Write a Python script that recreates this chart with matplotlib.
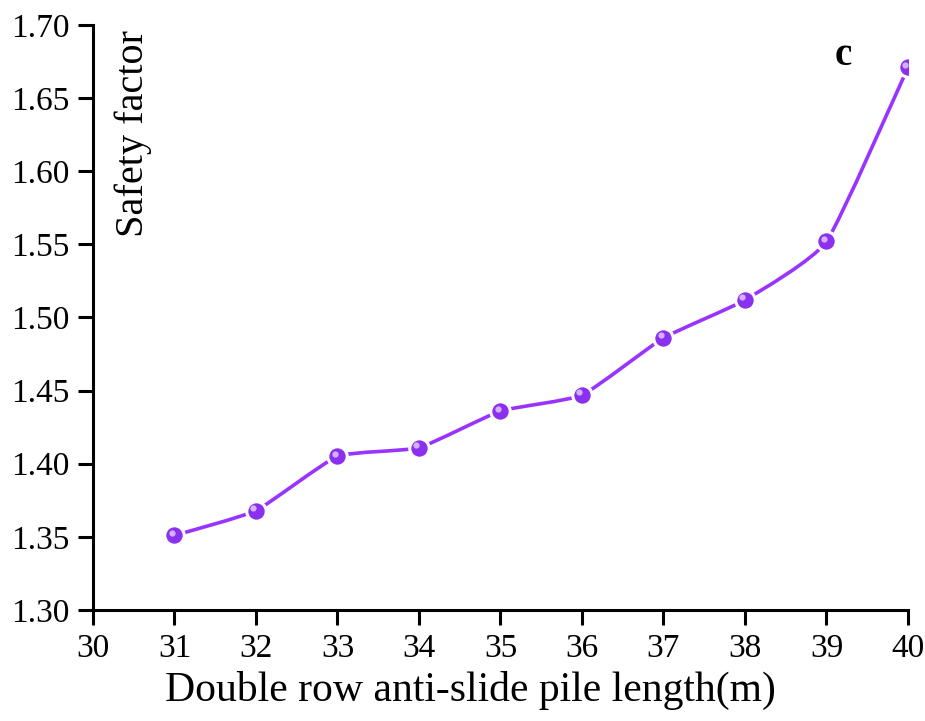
import numpy as np
import matplotlib.pyplot as plt
import matplotlib.transforms as mtransforms
from matplotlib.path import Path
from matplotlib.patches import PathPatch

# data
pile_length = [31, 32, 33, 34, 35, 36, 37, 38, 39, 40]
safety_factor = [1.351, 1.368, 1.405, 1.411, 1.436, 1.447, 1.486, 1.512, 1.552, 1.671]

x_ticks = [30, 31, 32, 33, 34, 35, 36, 37, 38, 39, 40]
y_ticks = [1.30, 1.35, 1.40, 1.45, 1.50, 1.55, 1.60, 1.65, 1.70]

plt.rcParams['font.family'] = ['Liberation Serif', 'DejaVu Serif']


def spline_path(xs, ys, k=0.08):
    # cubic bezier through the points, a mild version of Origin's spline connect
    p = np.column_stack([xs, ys]).astype(float)
    verts = [p[0]]
    codes = [Path.MOVETO]
    for i in range(len(p) - 1):
        p0 = p[i - 1] if i > 0 else p[i]
        p3 = p[i + 2] if i + 2 < len(p) else p[i + 1]
        c1 = p[i] + (p[i + 1] - p0) * k
        c2 = p[i + 1] - (p3 - p[i]) * k
        verts += [c1, c2, p[i + 1]]
        codes += [Path.CURVE4] * 3
    return Path(verts, codes)


fig = plt.figure(figsize=(9.25, 7.21), dpi=100)
ax = fig.add_axes([0.1005, 0.154, 0.8811, 0.8113])

line_col = '#9933FF'
dot_col = '#8A30EE'

ax.add_patch(PathPatch(spline_path(pile_length, safety_factor), fc='none',
                       ec=line_col, lw=2.6, zorder=2))
ax.plot(pile_length, safety_factor, ls='none', marker='o', ms=14,
        mfc=dot_col, mec='white', mew=2.2, zorder=3)
# small highlight on each ball
shift = mtransforms.ScaledTranslation(-2.5 / 100, 2.5 / 100, fig.dpi_scale_trans)
ax.plot(pile_length, safety_factor, ls='none', marker='o', ms=4.5,
        mfc='#DCC0FF', mec='none', alpha=0.9, zorder=4,
        transform=ax.transData + shift)

ax.set_xlim(30, 40)
ax.set_ylim(1.30, 1.70)
ax.set_xticks(x_ticks)
ax.set_yticks(y_ticks)
ax.set_yticklabels([f'{v:.2f}' for v in y_ticks])

for s in ['top', 'right']:
    ax.spines[s].set_visible(False)
for s in ['left', 'bottom']:
    ax.spines[s].set_linewidth(2.2)

ax.tick_params(axis='both', which='major', direction='out', length=11,
               width=2.2, labelsize=24)
ax.tick_params(axis='y', pad=6)
ax.tick_params(axis='x', pad=6)

ax.set_xlabel('Double row anti-slide pile length(m)', fontsize=30)
ax.xaxis.set_label_coords(0.463, -0.105)
ax.text(0.049, 0.992, 'Safety factor', transform=ax.transAxes, rotation=90,
        ha='center', va='top', fontsize=29)
ax.text(39.2, 1.679, 'c', ha='center', va='center', fontsize=28,
        fontweight='bold')

fig.savefig('out.png', dpi=100)
